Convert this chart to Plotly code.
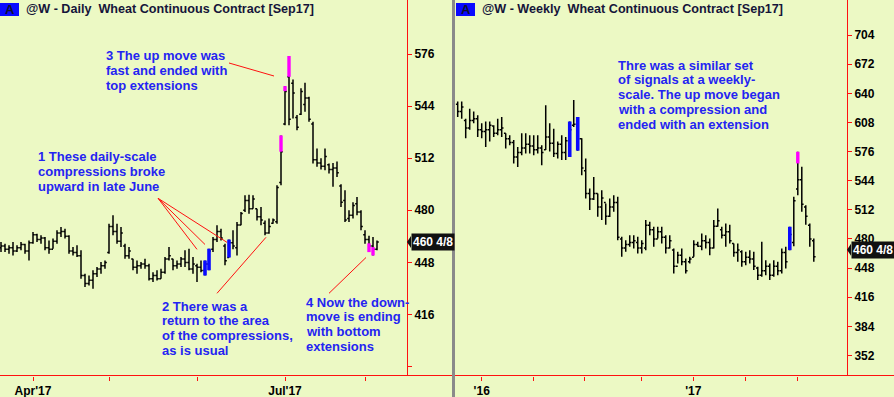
import plotly.graph_objects as go

# ---------------- DATA ----------------
# Daily bars (index = trading day, Apr'17 at 8, Jul'17 at 71)
d_high = [460.5, 459.5, 458.5, 460.5, 458.5, 460.5, 459.5, 461.5, 466.7, 465.6,
          464.6, 463.6, 461.5, 462.6, 467.7, 469.7, 468.7, 464.6, 457.4, 458.5,
          455.4, 441.0, 440.0, 443.1, 445.1, 448.2, 449.2, 471.8, 476.9, 471.8,
          469.7, 459.5, 457.4, 450.3, 449.2, 448.2, 450.3, 447.2, 442.0, 443.1,
          444.1, 451.3, 457.4, 450.3, 449.2, 451.3, 455.4, 456.4, 451.3, 447.2,
          449.2, 449.2, 456.4, 463.6, 470.8, 468.7, 459.5, 462.0, 467.7, 472.8,
          479.0, 489.2, 489.6, 489.2, 481.0, 482.0, 473.8, 474.9, 474.9, 495.4,
          526.0, 556.3, 574.8, 560.4, 538.5, 555.0, 558.4, 549.7, 534.4, 518.0,
          512.0, 518.0, 508.7, 509.0, 510.0, 496.0, 492.3, 480.0, 485.0, 488.2,
          480.0, 467.7, 464.4, 463.6, 461.5]
d_low = [454.4, 454.4, 453.3, 452.3, 454.4, 455.4, 453.3, 449.2, 459.5, 460.5,
         459.5, 455.4, 453.3, 456.4, 459.5, 463.6, 462.6, 453.3, 452.3, 451.3,
         438.0, 432.8, 433.8, 431.8, 439.0, 441.0, 444.1, 453.3, 464.6, 459.5,
         457.4, 450.3, 450.3, 443.1, 441.0, 444.1, 444.1, 436.9, 435.9, 436.9,
         438.0, 441.0, 449.2, 443.1, 444.1, 445.1, 445.1, 443.1, 441.0, 436.0,
         442.0, 440.0, 443.1, 454.4, 460.5, 461.5, 446.2, 451.0, 456.0, 452.3,
         470.8, 479.0, 477.9, 481.0, 473.8, 470.8, 464.6, 465.6, 471.8, 471.8,
         495.4, 532.3, 532.3, 536.4, 529.2, 538.5, 540.5, 534.4, 508.7, 506.7,
         505.0, 504.6, 502.6, 494.4, 500.5, 482.0, 472.8, 472.8, 474.9, 476.9,
         467.7, 459.5, 454.3, 452.3, 455.4]
d_open = [457, 458, 456, 457, 455, 457, 459, 455, 460, 465,
          462, 463, 457, 456, 461, 466, 467, 464, 455, 454,
          452, 440, 435, 437, 441, 444, 446, 454, 470, 467,
          461, 458, 452, 450, 445, 446, 447, 446, 438, 440,
          438, 442, 450, 450, 446, 447, 450, 448, 444, 446,
          445, 443, 447, 456, 462, 467, 458, 451, 460, 457,
          471, 480, 486, 481, 481, 476, 472, 466, 472, 473,
          497, 533, 562, 558, 537, 539, 545, 549, 533, 511,
          509, 507, 508, 505, 506, 495, 486, 475, 477, 484,
          479, 465, 462, 458, 456]
d_close = [458, 456, 457, 455, 457, 459, 455, 460, 465, 462,
           463, 457, 456, 461, 466, 467, 464, 455, 454, 452,
           440, 435, 437, 441, 444, 446, 448, 470, 467, 461,
           466, 452, 455, 445, 446, 447, 446, 438, 440, 438,
           442, 450, 452, 446, 447, 450, 448, 444, 447, 445,
           443, 447, 455, 462, 467, 463, 449, 460, 458, 471,
           478, 486, 481, 487, 476, 474, 466, 470, 474, 494,
           516, 553, 536, 552, 531, 553, 549, 536, 511, 509,
           507, 513, 505, 506, 503, 485, 474, 477, 483, 479,
           470, 462, 458, 456, 460.5]
d_comp_idx = [51, 52, 57]                      # blue compression bars
d_ext_idx = [70, 71, 72, 92, 93]               # magenta extension segments
d_ext_lo = [516.0, 553.2, 562.0, 454.3, 452.3]
d_ext_hi = [526.0, 556.3, 574.8, 459.7, 457.4]
d_tick_pos = [8, 27, 49, 71, 91]
d_tick_txt = ["Apr'17", "", "", "Jul'17", ""]
d_y_ticks = [384, 416, 448, 480, 512, 544, 576]

# Weekly bars ('16 at 6, '17 at ~59)
w_high = [631, 631, 612, 623, 620, 616, 607, 609, 609, 605,
          612, 614, 596, 594, 588.6, 581, 596, 596, 594, 594,
          594, 583, 627, 607, 601, 587, 594, 592, 609, 632.6,
          614, 590.5, 568.5, 535.5, 548, 530, 533.6, 519, 524.5, 528,
          526.4, 482.4, 478.7, 484, 484, 482.4, 478.7, 500.7, 499, 493.4,
          493.4, 493.4, 484, 484, 469.5, 466, 469.5, 458.5, 460.4, 478.7,
          477, 486, 484, 480.5, 500.7, 513.5, 493.4, 497, 495.5, 475,
          475, 467.7, 466, 467.7, 466, 449.4, 477, 456.7, 453, 456.7,
          455, 469.5, 471.4, 493.4, 526.4, 575.8, 559.3, 517, 497, 480.5]
w_low = [614, 612, 590.5, 600, 607, 592, 590.5, 581, 587, 592,
         594, 592, 579.5, 583, 563, 559, 572, 574, 574, 572,
         574, 561, 577.6, 576, 570, 568.5, 566.6, 566.6, 570, 603,
         577, 550, 524.5, 511.7, 522.7, 504.4, 500.7, 495.5, 504, 510,
         478.7, 460.4, 466, 471.4, 469.5, 464, 464, 467.7, 484, 471.4,
         480.5, 475, 464, 469.5, 442, 453, 451, 442, 453, 460.4,
         471.4, 467.7, 469.5, 462, 469.5, 493.4, 480.5, 471.4, 475, 460.4,
         455, 449.4, 451, 453, 445.8, 434.8, 438.4, 440, 434.8, 438.4,
         440, 442, 447.6, 467.7, 472, 528, 510, 495.5, 471.4, 455]
w_open = [628, 620, 610, 602, 610, 612, 600, 598, 600, 604,
          596, 600, 596, 590, 586, 570, 575, 580, 584, 582,
          578, 580, 578, 592, 585, 574, 584, 575, 588, 605,
          606, 590, 555, 530, 524, 530, 515, 520, 505, 515,
          520, 480, 470, 474, 476, 476, 470, 470, 495, 490,
          480, 488, 482, 470, 468, 450, 462, 455, 455, 460,
          474, 472, 478, 476, 470, 494, 490, 484, 488, 475,
          465, 466, 455, 460, 458, 448, 440, 445, 450, 440,
          450, 445, 465, 470, 476, 535, 545, 515, 495, 478]
w_close = [620, 625, 602, 610, 612, 600, 598, 600, 605, 596,
           600, 602, 590, 586, 570, 575, 580, 584, 582, 578,
           580, 575, 592, 585, 574, 584, 575, 588, 600, 606,
           590, 558, 530, 524, 530, 515, 525, 505, 515, 520,
           482, 470, 474, 476, 478, 470, 475, 495, 490, 480,
           488, 482, 470, 478, 450, 462, 455, 445, 458, 474,
           472, 478, 476, 470, 494, 500, 484, 488, 478, 465,
           468, 455, 460, 458, 450, 440, 445, 450, 440, 450,
           445, 465, 455, 485, 522, 545, 518, 505, 480, 460.5]
w_comp_idx = [28, 30, 83]
w_ext_idx = [85]
w_ext_lo = [563.0]
w_ext_hi = [575.8]
w_tick_pos = [6, 18.9, 31.8, 46, 58.9, 72, 85]
w_tick_txt = ["'16", "", "", "", "'17", "", ""]
w_y_ticks = [352, 384, 416, 448, 480, 512, 544, 576, 608, 640, 672, 704]

last_price_text = "460 4/8"
last_price = 460.5

titles = ["@W - Daily  Wheat Continuous Contract [Sep17]",
          "@W - Weekly  Wheat Continuous Contract [Sep17]"]

note1 = ["1 These daily-scale", "compressions broke", "upward in late June"]
note2 = ["2 There was a", "return to the area", "of the compressions,", "as is usual"]
note3 = ["3 The up move was", "fast and ended with", "top extensions"]
note4 = ["4 Now the down-", "move is ending", "with bottom", "extensions"]
note5 = ["Thre was a similar set", "of signals at a weekly-", "scale. The up move began",
         "with a compression and", "ended with an extension"]

# ---------------- STYLE ----------------
W, H = 894, 397
BG = "#ECF9C4"
RED = "#FF1010"
BLUE_TXT = "#2424F2"
FONT = "Arial, Liberation Sans, sans-serif"


def px(x):
    return x / W


def py(y):
    return 1 - y / H


def seg(idx, lo, hi):
    xs, ys = [], []
    for i, a, b in zip(idx, lo, hi):
        xs += [i, i, None]
        ys += [a, b, None]
    return xs, ys


fig = go.Figure()

# OHLC traces
fig.add_trace(go.Ohlc(x=list(range(len(d_high))), open=d_open, high=d_high, low=d_low, close=d_close,
                      increasing=dict(line=dict(color="black", width=1.5)),
                      decreasing=dict(line=dict(color="black", width=1.5)),
                      tickwidth=0.45, xaxis="x", yaxis="y", hoverinfo="skip", showlegend=False))
fig.add_trace(go.Ohlc(x=list(range(len(w_high))), open=w_open, high=w_high, low=w_low, close=w_close,
                      increasing=dict(line=dict(color="black", width=1.5)),
                      decreasing=dict(line=dict(color="black", width=1.5)),
                      tickwidth=0.45, xaxis="x2", yaxis="y2", hoverinfo="skip", showlegend=False))

# Compression (blue) overlays
xs, ys = seg(d_comp_idx, [d_low[i] for i in d_comp_idx], [d_high[i] for i in d_comp_idx])
fig.add_trace(go.Scatter(x=xs, y=ys, mode="lines", line=dict(color="#0A0AFF", width=3.6),
                         xaxis="x", yaxis="y", hoverinfo="skip", showlegend=False))
xs, ys = seg(w_comp_idx, [w_low[i] for i in w_comp_idx], [w_high[i] for i in w_comp_idx])
fig.add_trace(go.Scatter(x=xs, y=ys, mode="lines", line=dict(color="#0A0AFF", width=3.6),
                         xaxis="x2", yaxis="y2", hoverinfo="skip", showlegend=False))
# Extension (magenta) overlays
xs, ys = seg(d_ext_idx, d_ext_lo, d_ext_hi)
fig.add_trace(go.Scatter(x=xs, y=ys, mode="lines", line=dict(color="#FF00FF", width=3.4),
                         xaxis="x", yaxis="y", hoverinfo="skip", showlegend=False))
xs, ys = seg(w_ext_idx, w_ext_lo, w_ext_hi)
fig.add_trace(go.Scatter(x=xs, y=ys, mode="lines", line=dict(color="#FF00FF", width=3.4),
                         xaxis="x2", yaxis="y2", hoverinfo="skip", showlegend=False))

tickfont = dict(family=FONT, size=12, color="black", weight="bold")
ydom = [21.5 / H, 1]

xcommon = dict(ticks="outside", ticklen=4, tickcolor=RED, showline=False, showgrid=False,
               zeroline=False, tickfont=tickfont, rangeslider=dict(visible=False), fixedrange=True)
ycommon = dict(side="right", ticks="outside", ticklen=4, tickcolor=RED, showline=True,
               linecolor=RED, linewidth=1, showgrid=False, zeroline=False, tickfont=tickfont,
               fixedrange=True)

fig.update_layout(
    width=W, height=H, margin=dict(l=0, r=0, t=0, b=0),
    paper_bgcolor=BG, plot_bgcolor=BG, showlegend=False,
    font=dict(family=FONT),
    xaxis=dict(domain=[0, 407 / W], range=[-0.25, 101.5], anchor="y",
               tickmode="array", tickvals=d_tick_pos, ticktext=d_tick_txt, **xcommon),
    yaxis=dict(domain=ydom, range=[378.5, 609.2], anchor="x", tickmode="array",
               tickvals=d_y_ticks, ticktext=["" if v == 384 else str(v) for v in d_y_ticks], **ycommon),
    xaxis2=dict(domain=[455 / W, 847 / W], range=[-0.675, 97.3], anchor="y2",
                tickmode="array", tickvals=w_tick_pos, ticktext=w_tick_txt, **xcommon),
    yaxis2=dict(domain=ydom, range=[330, 742.5], anchor="x2", tickmode="array",
                tickvals=w_y_ticks, ticktext=[str(v) for v in w_y_ticks], **ycommon),
)

shapes = []
# bottom red axis lines (extend past the price axis)
shapes.append(dict(type="line", xref="paper", yref="paper", x0=0, x1=452 / W, y0=ydom[0], y1=ydom[0],
                   line=dict(color=RED, width=1)))
shapes.append(dict(type="line", xref="paper", yref="paper", x0=455 / W, x1=1, y0=ydom[0], y1=ydom[0],
                   line=dict(color=RED, width=1)))
# gray separator
shapes.append(dict(type="line", xref="paper", yref="paper", x0=px(453.5), x1=px(453.5), y0=0, y1=1,
                   line=dict(color="#8A8A8A", width=3)))
# "A" boxes
for x0 in (0, 456):
    shapes.append(dict(type="rect", xref="paper", yref="paper", x0=px(x0), x1=px(x0 + 19),
                       y0=py(16), y1=py(3), fillcolor="#0A0AFF", line=dict(width=0)))

# red pointer lines (data coordinates)
pointers = [
    ((39.25, 487.4), (49.0, 456.0)),
    ((39.25, 487.4), (51.0, 459.0)),
    ((39.25, 487.4), (56.5, 460.3)),
    ((54.0, 429.0), (66.25, 463.4)),
    ((57.0, 570.5), (68.25, 562.5)),
    ((82.0, 429.0), (91.25, 451.0)),
]
for (a, b) in pointers:
    shapes.append(dict(type="line", xref="x", yref="y", x0=a[0], y0=a[1], x1=b[0], y1=b[1],
                       line=dict(color=RED, width=1)))

# last-price label pointers
shapes.append(dict(type="path", xref="paper", yref="y", xsizemode="pixel", ysizemode="pixel",
                   xanchor=px(411), yanchor=last_price, path="M 0,-6 L -4,0 L 0,6 Z",
                   fillcolor="#111111", line=dict(width=0)))
shapes.append(dict(type="path", xref="paper", yref="y2", xsizemode="pixel", ysizemode="pixel",
                   xanchor=px(851), yanchor=last_price, path="M 0,1 L -4,7 L 0,13 Z",
                   fillcolor="#111111", line=dict(width=0)))
fig.update_layout(shapes=shapes)

ann = []
# titles
for x0, t in zip((0, 456), titles):
    ann.append(dict(text="A", xref="paper", yref="paper", x=px(x0 + 9.5), y=py(9.5),
                    xanchor="center", yanchor="middle", showarrow=False,
                    font=dict(family=FONT, size=13, color="#101030", weight="bold")))
    ann.append(dict(text=t, xref="paper", yref="paper", x=px(x0 + 24), y=py(9.5),
                    xanchor="left", yanchor="middle", showarrow=False,
                    font=dict(family=FONT, size=12.6, color="#15153A", weight="bold")))


def block(lines, x, y_first, step=14.8):
    for k, s in enumerate(lines):
        ann.append(dict(text=s, xref="paper", yref="paper", x=px(x), y=py(y_first + k * step),
                        xanchor="left", yanchor="middle", showarrow=False,
                        font=dict(family=FONT, size=13, color=BLUE_TXT, weight="bold")))


block(note1, 35.5, 157)
block(note2, 159.5, 306)
block(note3, 103.5, 56)
block(note4, 303.5, 302)
block(note5, 615.5, 65)

# last price labels
ann.append(dict(text=last_price_text, xref="paper", yref="y", x=px(411), y=last_price,
                xanchor="left", yanchor="middle", showarrow=False, bgcolor="#111111",
                borderpad=1, font=dict(family=FONT, size=12, color="white", weight="bold")))
ann.append(dict(text=last_price_text, xref="paper", yref="y2", x=px(851), y=last_price, yshift=7,
                xanchor="left", yanchor="middle", showarrow=False, bgcolor="#111111",
                borderpad=1, font=dict(family=FONT, size=12, color="white", weight="bold")))
fig.update_layout(annotations=ann)

fig.write_html("out.html", config={"displayModeBar": False},
               post_script="document.body.style.margin='0';document.body.style.overflow='hidden';")
